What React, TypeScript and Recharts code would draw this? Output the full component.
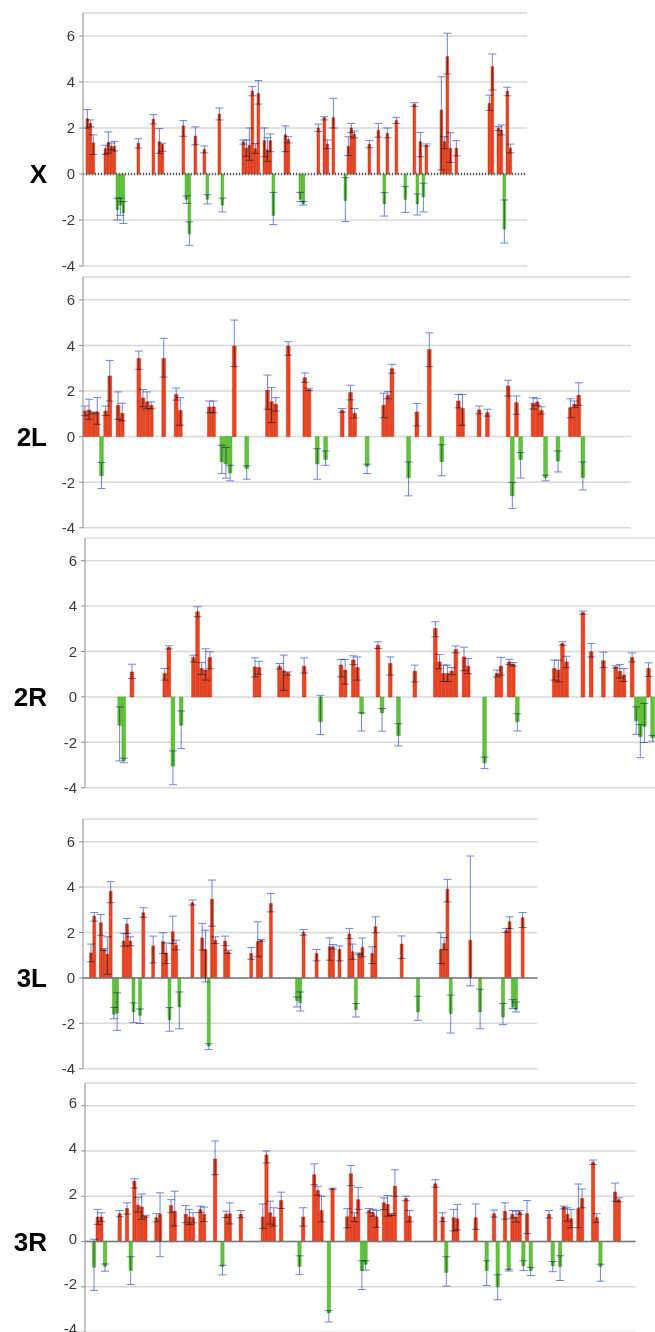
import React from 'react';
import { BarChart, Bar, XAxis, YAxis, CartesianGrid, ErrorBar, Cell, ReferenceLine } from 'recharts';

// [slot, value, error below, error above]
type Row = [number, number, number, number];

const yTicks = [-4, -2, 0, 2, 4, 6];

const xRows: Row[] = [
  [1, 2.4, 0.4, 0.4], [2, 2.2, 0.15, 0.15], [3, 1.35, 0.5, 0.35], [7, 1.1, 0.25, 0.15],
  [8, 1.36, 0.45, 0.47], [9, 1.2, 0.15, 0.15], [10, 1.2, 0.2, 0.22], [11, -1.55, 0.45, 0.5],
  [12, -1.35, 0.45, 0.3], [13, -1.7, 0.45, 0.5], [18, 1.33, 0.2, 0.2], [23, 2.38, 0.2, 0.2],
  [25, 1.4, 0.5, 0.58], [26, 1.29, 0.3, 0.05], [33, 2.09, 0.45, 0.23], [34, -1.1, 0.18, 0.15],
  [35, -2.6, 0.5, 0.52], [37, 1.65, 0.38, 0.4], [40, 1.07, 0.15, 0.15], [41, -1.1, 0.2, 0.2],
  [45, 2.6, 0.25, 0.27], [46, -1.35, 0.3, 0.3], [53, 1.4, 0.1, 0.08], [54, 1.12, 0.35, 0.36],
  [55, 1.25, 0.65, 0.75], [56, 3.6, 0.2, 0.2], [57, 1.1, 0.2, 0.22], [58, 3.5, 0.46, 0.56],
  [60, 1.45, 0.7, 0.55], [61, 1.05, 0.5, 0.53], [62, 1.45, 0.48, 0.29], [63, -1.8, 0.4, 1.0],
  [67, 1.7, 0.73, 0.39], [68, 1.5, 0.15, 0.12], [72, -1.1, 0.1, 0.3], [73, -1.3, 0.05, 0.1],
  [78, 2.0, 0.15, 0.17], [80, 2.45, 0.1, 0.04], [81, 1.3, 0.2, 0.18], [83, 2.45, 0.45, 0.84],
  [87, -1.15, 0.92, 0.99], [88, 1.2, 0.4, 0.42], [89, 2.0, 0.2, 0.2], [90, 1.72, 0.15, 0.15],
  [95, 1.29, 0.15, 0.16], [98, 1.9, 0.3, 0.3], [100, -1.3, 0.53, 0.49], [101, 1.77, 0.2, 0.23],
  [104, 2.32, 0.12, 0.14], [107, -1.1, 0.57, 0.55], [110, 3.04, 0.1, 0.06], [111, -1.3, 0.48, 0.43],
  [112, 1.4, 0.65, 0.41], [113, -1.0, 0.65, 0.6], [114, 1.26, 0.05, 0.05], [119, 2.78, 2.6, 1.45],
  [120, 1.4, 0.3, 0.22], [121, 5.1, 0.75, 1.02], [122, 1.12, 0.62, 0.68], [124, 1.12, 0.33, 0.33],
  [135, 3.07, 0.3, 0.36], [136, 4.67, 1.02, 0.55], [138, 1.99, 0.1, 0.07], [139, 1.9, 0.2, 0.23],
  [140, -2.4, 0.6, 1.27], [141, 3.6, 0.2, 0.17], [142, 1.12, 0.2, 0.18],
];

const l2Rows: Row[] = [
  [0, 1.12, 0.2, 0.22], [1, 1.17, 0.41, 0.47], [2, 1.05, 0.05, 0.03], [3, 1.08, 0.54, 0.63],
  [4, -1.72, 0.56, 0.58], [5, 1.12, 0.2, 0.22], [6, 2.66, 1.1, 0.68], [8, 1.37, 0.61, 0.59],
  [9, 1.02, 0.33, 0.44], [13, 3.43, 0.48, 0.32], [14, 1.69, 0.38, 0.38], [15, 1.52, 0.3, 0.44],
  [16, 1.37, 0.15, 0.15], [19, 3.43, 0.82, 0.88], [22, 1.85, 0.25, 0.28], [23, 1.15, 0.65, 0.56],
  [30, 1.3, 0.25, 0.26], [31, 1.3, 0.25, 0.26], [33, -1.1, 0.52, 0.72], [34, -1.2, 0.62, 0.72],
  [35, -1.6, 0.34, 0.34], [36, 3.97, 0.9, 1.14], [39, -1.4, 0.47, 0.12], [44, 2.03, 0.83, 0.67],
  [45, 1.53, 0.92, 0.62], [46, 1.42, 0.3, 0.29], [49, 3.97, 0.4, 0.19], [53, 2.58, 0.2, 0.21],
  [54, 2.07, 0.05, 0.05], [56, -1.2, 0.67, 0.67], [58, -1.0, 0.26, 0.37], [62, 1.15, 0.08, 0.08],
  [64, 1.93, 0.32, 0.32], [65, 1.02, 0.2, 0.21], [68, -1.3, 0.32, 0.09], [72, 1.37, 0.54, 0.53],
  [73, 1.81, 0.15, 0.16], [74, 2.98, 0.2, 0.19], [78, -1.8, 0.8, 0.69], [80, 1.08, 0.61, 0.37],
  [83, 3.82, 0.75, 0.73], [86, -1.1, 0.62, 0.74], [90, 1.56, 0.3, 0.29], [91, 1.23, 0.73, 0.62],
  [95, 1.17, 0.17, 0.17], [97, 1.05, 0.15, 0.15], [102, 2.22, 0.44, 0.25], [103, -2.6, 0.55, 0.59],
  [104, 1.49, 0.51, 0.29], [105, -1.0, 0.82, 0.3], [108, 1.46, 0.25, 0.25], [109, 1.52, 0.16, 0.16],
  [110, 1.15, 0.16, 0.16], [111, -1.8, 0.14, 0.11], [114, -1.07, 0.48, 0.44], [117, 1.27, 0.44, 0.39],
  [118, 1.42, 0.15, 0.14], [119, 1.81, 0.44, 0.55], [120, -1.8, 0.54, 0.69],
];

const r2Rows: Row[] = [
  [8, -1.25, 1.57, 0.81], [9, -2.8, 0.1, 0.1], [11, 1.1, 0.29, 0.34], [19, 1.03, 0.29, 0.22],
  [20, 2.18, 0.07, 0.07], [21, -3.05, 0.82, 0.67], [23, -1.25, 1.03, 0.63], [26, 1.74, 0.2, 0.1],
  [27, 3.75, 0.22, 0.22], [28, 1.25, 0.26, 0.26], [29, 1.18, 0.44, 0.94], [30, 1.74, 0.5, 0.25],
  [41, 1.32, 0.44, 0.4], [42, 1.29, 0.29, 0.28], [47, 1.35, 0.12, 0.12], [48, 1.15, 0.86, 0.69],
  [49, 1.06, 0.1, 0.04], [53, 1.35, 0.3, 0.37], [57, -1.1, 0.56, 1.17], [62, 1.4, 0.52, 0.25],
  [63, 1.18, 0.62, 0.47], [65, 1.62, 0.2, 0.19], [66, 1.29, 0.55, 0.47], [67, -0.75, 0.75, 0.05],
  [71, 2.28, 0.15, 0.15], [72, -0.7, 0.81, 0.19], [74, 1.47, 0.51, 0.29], [76, -1.7, 0.46, 0.52],
  [80, 1.13, 0.47, 0.27], [85, 3.01, 0.36, 0.3], [86, 1.54, 0.3, 0.33], [87, 1.03, 0.35, 0.37],
  [88, 1.03, 0.35, 0.37], [89, 1.13, 0.15, 0.16], [90, 2.09, 0.15, 0.15], [92, 1.76, 0.61, 0.43],
  [93, 1.35, 0.33, 0.34], [97, -2.9, 0.26, 0.25], [100, 1.03, 0.15, 0.15], [101, 1.35, 0.39, 0.39],
  [103, 1.54, 0.12, 0.12], [104, 1.44, 0.08, 0.07], [105, -1.1, 0.4, 0.36], [114, 1.25, 0.51, 0.37],
  [115, 1.18, 0.52, 0.44], [116, 2.35, 0.08, 0.08], [117, 1.54, 0.25, 0.25], [121, 3.71, 0.07, 0.07],
  [123, 1.99, 0.23, 0.36], [126, 1.59, 0.3, 0.38], [129, 1.32, 0.05, 0.05], [130, 1.13, 0.3, 0.3],
  [131, 0.96, 0.28, 0.29], [133, 1.74, 0.2, 0.2], [134, -1.05, 0.6, 0.61], [135, -1.75, 0.93, 0.53],
  [136, -1.3, 0.71, 1.01], [137, 1.25, 0.35, 0.25], [138, -1.8, 0.15, 0.1],
];

const l3Rows: Row[] = [
  [2, 1.1, 0.39, 0.39], [3, 2.72, 0.22, 0.16], [5, 2.43, 0.55, 0.36], [6, 1.25, 0.05, 0.04],
  [7, 1.04, 0.88, 0.77], [8, 3.82, 0.51, 0.42], [9, -1.6, 0.2, 0.3], [10, -1.55, 0.76, 0.89],
  [12, 1.62, 0.22, 0.34], [13, 2.37, 0.41, 0.25], [14, 1.62, 0.2, 0.19], [15, -1.5, 0.47, 0.4],
  [17, -1.65, 0.36, 0.28], [18, 2.87, 0.2, 0.22], [21, 1.41, 0.75, 0.43], [24, 1.59, 0.52, 0.4],
  [25, 1.1, 0.47, 0.44], [26, -1.85, 0.5, 0.54], [27, 2.03, 0.52, 0.69], [28, 1.44, 0.2, 0.22],
  [29, -1.28, 0.96, 0.66], [33, 3.31, 0.1, 0.12], [36, 1.76, 0.54, 0.64], [37, 1.25, 1.43, 0.85],
  [38, -3.0, 0.16, 0.1], [39, 3.46, 1.18, 0.85], [40, 1.66, 0.15, 0.15], [43, 1.62, 0.2, 0.22],
  [44, 1.15, 0.07, 0.07], [51, 1.07, 0.25, 0.27], [53, 1.59, 0.66, 0.88], [54, 1.66, 0.05, 0.03],
  [57, 3.28, 0.37, 0.44], [65, -1.0, 0.28, 0.16], [66, -1.1, 0.36, 0.48], [67, 2.0, 0.12, 0.13],
  [71, 1.07, 0.32, 0.18], [75, 1.37, 0.59, 0.39], [76, 1.37, 0.1, 0.1], [78, 1.25, 0.5, 0.16],
  [81, 1.93, 0.2, 0.25], [82, 1.15, 0.33, 0.34], [83, -1.4, 0.32, 0.27], [84, 1.07, 0.05, 0.03],
  [85, 1.34, 0.41, 0.42], [88, 1.07, 0.44, 0.3], [89, 2.25, 0.26, 0.44], [97, 1.49, 0.64, 0.36],
  [102, -1.5, 0.37, 0.69], [109, 1.25, 0.62, 0.74], [110, 1.51, 0.27, 0.27], [111, 3.91, 0.56, 0.43],
  [112, -1.57, 0.86, 0.81], [118, 1.66, 2.01, 3.71], [121, -1.5, 0.74, 1.0], [128, -1.72, 0.34, 0.59],
  [129, 2.1, 0.1, 0.08], [130, 2.47, 0.3, 0.22], [131, -1.28, 0.07, 0.32], [132, -1.4, 0.1, 0.34],
  [134, 2.65, 0.43, 0.23],
];

const r3Rows: Row[] = [
  [2, -1.14, 1.02, 1.24], [3, 1.08, 0.32, 0.34], [4, 1.08, 0.2, 0.19], [5, -1.1, 0.21, 0.11],
  [9, 1.23, 0.14, 0.14], [11, 1.46, 0.25, 0.25], [12, -1.28, 0.62, 0.61], [13, 2.66, 0.3, 0.11],
  [14, 1.6, 0.3, 0.35], [15, 1.53, 0.55, 0.57], [16, 1.12, 0.04, 0.04], [19, 1.05, 0.18, 0.18],
  [20, 1.2, 1.87, 0.95], [23, 1.59, 0.3, 0.26], [24, 1.34, 0.65, 0.88], [27, 1.2, 0.37, 0.39],
  [28, 1.08, 0.33, 0.34], [29, 1.05, 0.22, 0.22], [31, 1.42, 0.14, 0.14], [32, 1.2, 0.32, 0.32],
  [35, 3.64, 0.69, 0.8], [37, -1.1, 0.37, 0.05], [38, 1.2, 0.14, 0.14], [39, 1.23, 0.45, 0.48],
  [42, 1.2, 0.15, 0.17], [48, 1.08, 0.5, 0.58], [49, 3.82, 0.35, 0.18], [50, 1.27, 0.5, 0.51],
  [51, 1.08, 0.4, 0.41], [53, 1.81, 0.35, 0.37], [58, -1.1, 0.36, 0.47], [59, 1.08, 0.4, 0.41],
  [62, 2.95, 0.44, 0.48], [63, 2.25, 0.2, 0.19], [64, 1.37, 0.5, 0.63], [66, -3.15, 0.4, 0.1],
  [67, 2.34, 0.05, 0.02], [71, 1.09, 0.48, 0.36], [72, 2.99, 0.52, 0.37], [73, 1.08, 0.2, 0.19],
  [74, 1.85, 0.43, 0.54], [75, -1.28, 0.84, 0.43], [76, -1.0, 0.26, 0.15], [77, 1.37, 0.1, 0.09],
  [78, 1.27, 0.15, 0.15], [79, 1.08, 0.45, 0.29], [81, 1.71, 0.3, 0.22], [82, 1.64, 0.52, 0.39],
  [83, 1.2, 0.05, 0.03], [84, 2.44, 0.44, 0.73], [87, 1.9, 0.1, 0.1], [88, 1.12, 0.25, 0.25],
  [95, 2.55, 0.15, 0.18], [97, 1.08, 0.2, 0.19], [98, -1.36, 0.61, 0.69], [100, 1.05, 0.58, 0.37],
  [101, 1.01, 0.5, 0.63], [106, 1.05, 0.51, 0.61], [109, -1.28, 0.66, 0.43], [111, 1.23, 0.15, 0.16],
  [112, -2.0, 0.57, 0.53], [114, 1.34, 0.35, 0.37], [115, -1.26, 0.04, 0.04], [116, 1.2, 0.16, 0.17],
  [117, 1.08, 0.22, 0.26], [118, 1.3, 0.1, 0.07], [119, -1.07, 0.21, 0.22], [120, 1.23, 0.88, 0.58],
  [121, -1.28, 0.22, 0.14], [126, 1.2, 0.16, 0.17], [127, -1.07, 0.26, 0.19], [129, -1.1, 0.62, 0.47],
  [130, 1.52, 0.08, 0.04], [131, 1.2, 0.3, 0.29], [132, 1.01, 0.4, 0.41], [134, 1.46, 0.85, 1.08],
  [135, 1.9, 0.41, 0.42], [138, 3.5, 0.1, 0.1], [139, 1.05, 0.2, 0.18], [140, -1.1, 0.65, 0.1],
  [144, 2.19, 0.41, 0.39], [145, 1.85, 0.1, 0.08],
];

const RED = '#ec4320';
const RED_EDGE = '#c23116';
const GREEN = '#62c43a';
const GREEN_EDGE = '#45a12a';
const ERR = '#6d84dc';
const PAD = 12;
const AXIS_W = 60;
const FONT = '"Liberation Sans", Arial, sans-serif';

interface PanelProps {
  label: string;
  rows: Row[];
  slots: number;
  slotW: number;
  axisX: number;
  zeroY: number;
  unit: number;
  zero: 'dotted' | 'solid' | 'grid';
  tickDy?: number;
}

const Panel = ({ label, rows, slots, slotW, axisX, zeroY, unit, zero, tickDy = 0 }: PanelProps) => {
  const data = rows.map(([slot, value, lo, hi]) => ({ slot: slot + 0.5, value, err: [lo, hi] }));
  const plotW = slots * slotW;
  const plotH = 11 * unit;
  const top = zeroY - 7 * unit - PAD;
  return (
    <>
      <div
        style={{
          position: 'absolute', right: 655 - 47, top: zeroY - 16, fontSize: 26, fontWeight: 'bold',
          lineHeight: '32px', color: '#000', fontFamily: FONT,
        }}
      >
        {label}
      </div>
      <div style={{ position: 'absolute', left: 0, top }}>
        <BarChart
          width={axisX + plotW + 2}
          height={plotH + 2 * PAD}
          data={data}
          margin={{ top: PAD, bottom: PAD, left: axisX - AXIS_W, right: 2 }}
        >
          <CartesianGrid vertical={false} stroke="#d8d8d8" strokeWidth={1.5} />
          <XAxis dataKey="slot" type="number" domain={[0, slots]} hide />
          <YAxis
            domain={[-4, 7]}
            ticks={yTicks}
            width={AXIS_W}
            allowDataOverflow
            axisLine={{ stroke: '#8c8c8c' }}
            tickLine={{ stroke: '#8c8c8c' }}
            tickSize={4}
            tickMargin={4}
            tick={{ fontSize: 15, fill: '#3a3a3a', fontFamily: FONT, dy: tickDy }}
          />
          {zero === 'dotted' && (
            <ReferenceLine y={0} stroke="#555" strokeWidth={2.5} strokeDasharray="1 2" />
          )}
          {zero === 'solid' && <ReferenceLine y={0} stroke="#777" strokeWidth={1.5} />}
          <Bar dataKey="value" barSize={slotW * 0.9} isAnimationActive={false}>
            {data.map((d, i) => (
              <Cell
                key={i}
                fill={d.value < 0 ? GREEN : RED}
                stroke={d.value < 0 ? GREEN_EDGE : RED_EDGE}
                strokeWidth={0.5}
              />
            ))}
            <ErrorBar dataKey="err" direction="y" width={4} stroke={ERR} strokeWidth={1} isAnimationActive={false} />
          </Bar>
        </BarChart>
      </div>
    </>
  );
};

export default function App() {
  return (
    <div
      style={{
        position: 'absolute', left: 0, top: 0, width: 655, height: 1332, overflow: 'hidden',
        background: '#fff',
      }}
    >
      <style>{'.recharts-errorBar { mix-blend-mode: multiply; }'}</style>
      <Panel label="X" rows={xRows} slots={148} slotW={3} axisX={83} zeroY={174} unit={23} zero="dotted" />
      <Panel label="2L" rows={l2Rows} slots={132} slotW={4.15} axisX={83} zeroY={437} unit={22.8} zero="grid" />
      <Panel label="2R" rows={r2Rows} slots={141} slotW={4.1} axisX={85} zeroY={697} unit={22.7} zero="grid" />
      <Panel label="3L" rows={l3Rows} slots={139} slotW={3.27} axisX={83} zeroY={978} unit={22.7} zero="solid" />
      <Panel label="3R" rows={r3Rows} slots={150} slotW={3.67} axisX={85} zeroY={1242} unit={22.65} zero="solid" tickDy={-3} />
    </div>
  );
}
